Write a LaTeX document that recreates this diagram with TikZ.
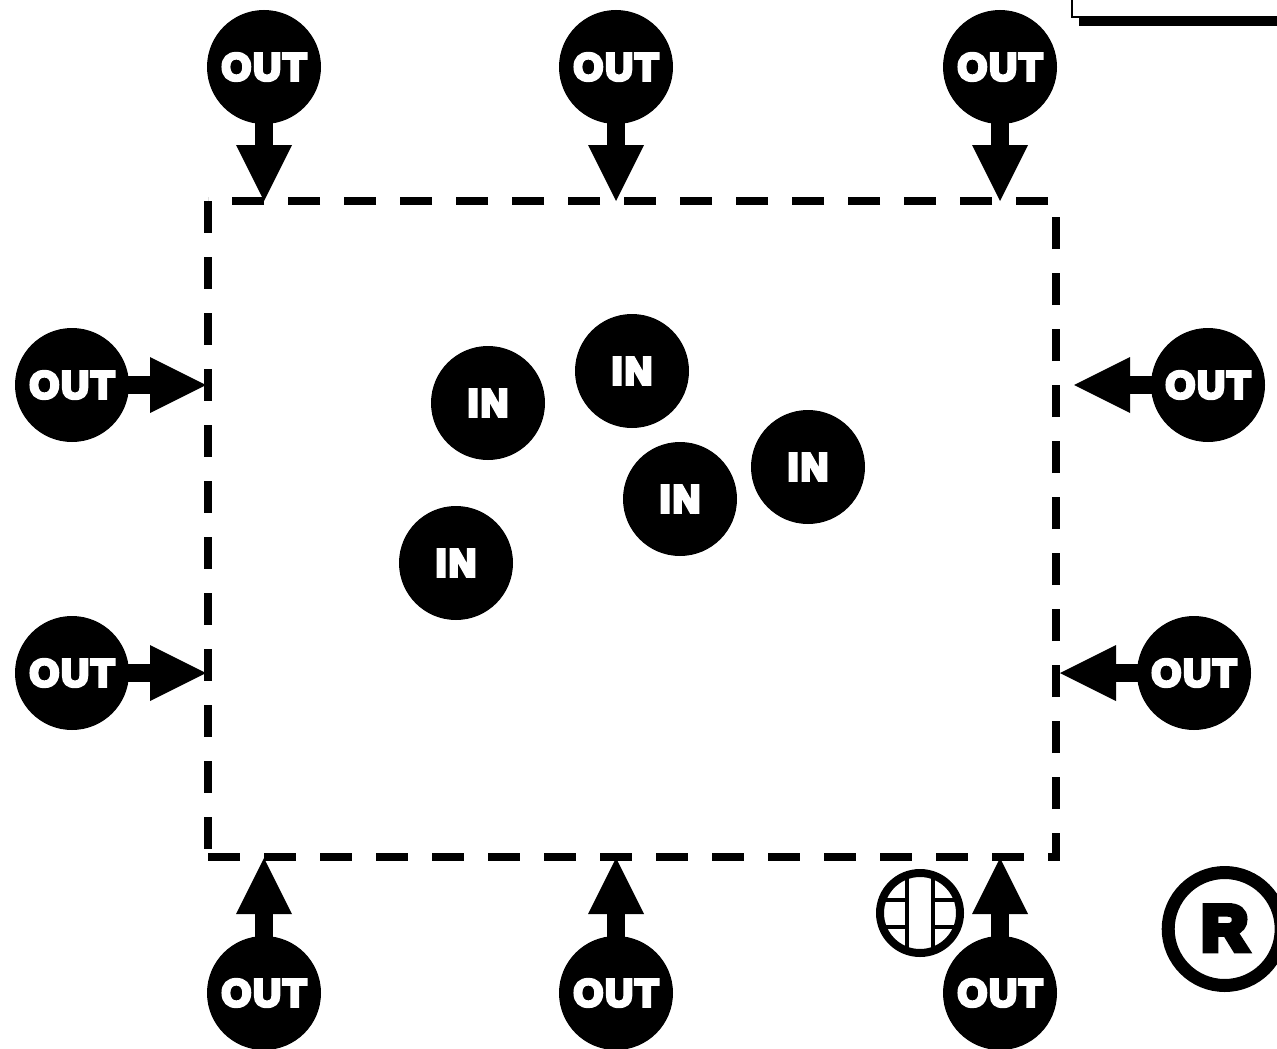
\documentclass[tikz,border=0pt]{standalone}
\usepackage{fontspec}
\usetikzlibrary{arrows.meta}
\newfontfamily\heavyfont[FakeBold=9,LetterSpace=6]{Liberation Sans Bold}
\newfontfamily\regfont[FakeBold=10]{Liberation Sans Bold}
\tikzset{
  disc/.style={circle,fill=black,draw=none,minimum size=114pt,inner sep=0pt,text=white,
    font=\heavyfont\fontsize{38}{38}\selectfont},
  feed/.style={line width=18pt,-{Triangle[length=56pt,width=56pt,line width=0pt]},black,shorten <=-3pt},
  border/.style={line width=8pt,dash pattern=on 32pt off 24pt,miter limit=10}
}
\begin{document}
\begin{tikzpicture}[x=1pt,y=-1pt]
\useasboundingbox (0,0) rectangle (1277,1049);
\clip (0,0) rectangle (1277,1049);
% boundary corners
\coordinate (bl) at (208,857);
\coordinate (br) at (1056,857);
\coordinate (tr) at (1056,201);
\coordinate (tl) at (208,201);
\draw[border] (bl) -- (br) -- (tr) -- (tl);
\draw[border] (tl) -- (bl);
% arrow targets
\coordinate (t1) at (264,201);
\coordinate (t2) at (616,201);
\coordinate (t3) at (1000,201);
\coordinate (l1) at (206,385);
\coordinate (l2) at (206,673);
\coordinate (r1) at (1074,385);
\coordinate (r2) at (1060,673);
\coordinate (b1) at (264,858);
\coordinate (b2) at (616,858);
\coordinate (b3) at (1000,858);
% outside nodes
\node[disc] (ot1) at (264,67) {OUT};
\node[disc] (ot2) at (616,67) {OUT};
\node[disc] (ot3) at (1000,67) {OUT};
\node[disc] (ol1) at (72,385) {OUT};
\node[disc] (ol2) at (72,673) {OUT};
\node[disc] (or1) at (1208,385) {OUT};
\node[disc] (or2) at (1194,673) {OUT};
\node[disc] (ob1) at (264,993) {OUT};
\node[disc] (ob2) at (616,993) {OUT};
\node[disc] (ob3) at (1000,993) {OUT};
% inside nodes
\node[disc] (i1) at (488,403) {IN};
\node[disc] (i2) at (632,371) {IN};
\node[disc] (i3) at (680,499) {IN};
\node[disc] (i4) at (808,467) {IN};
\node[disc] (i5) at (456,563) {IN};
% connectors
\draw[feed] (ot1) -- (t1);
\draw[feed] (ot2) -- (t2);
\draw[feed] (ot3) -- (t3);
\draw[feed] (ol1) -- (l1);
\draw[feed] (ol2) -- (l2);
\draw[feed] (or1) -- (r1);
\draw[feed] (or2) -- (r2);
\draw[feed] (ob1) -- (b1);
\draw[feed] (ob2) -- (b2);
\draw[feed] (ob3) -- (b3);
% top-right box with shadow
\fill[black] (1079,8) rectangle (1290,26);
\draw[black,fill=white,line width=1.5pt] (1072,-5) rectangle (1290,17);
% globe icon
\begin{scope}
\clip (920,913) circle (40pt);
\draw[line width=4pt] (907,860) -- (907,960);
\draw[line width=4pt] (933,860) -- (933,960);
\draw[line width=4pt] (870,900) -- (907,900);
\draw[line width=4pt] (870,926.5) -- (907,926.5);
\draw[line width=4pt] (933,900) -- (970,900);
\draw[line width=4pt] (933,926.5) -- (970,926.5);
\end{scope}
\node[circle,draw=black,line width=8pt,minimum size=80pt,inner sep=0pt] (globe) at (920,913) {};
% registered mark
\node[circle,draw=black,line width=13pt,minimum size=113pt,inner sep=0pt,
  font=\regfont\fontsize{64}{64}\selectfont] (reg) at (1224.7,929) {\raisebox{1.5pt}{R}};
\end{tikzpicture}
\end{document}
